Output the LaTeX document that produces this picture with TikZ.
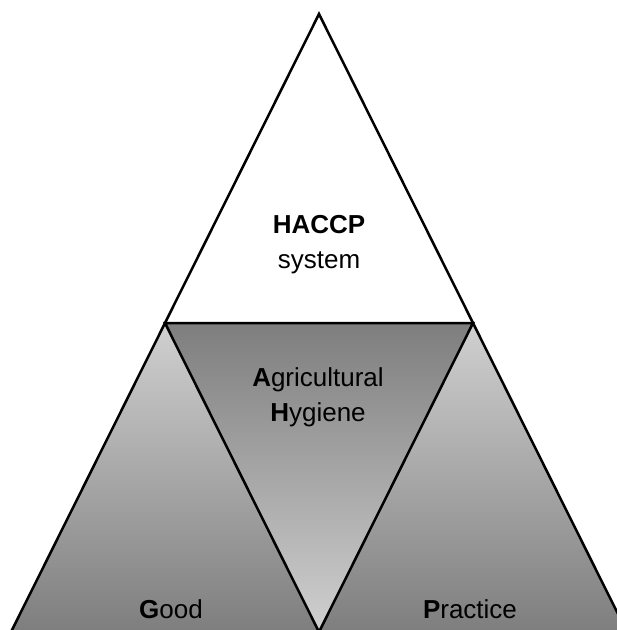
\documentclass[tikz,border=0pt]{standalone}
\usepackage{fontspec}
\setmainfont{Liberation Sans}
\definecolor{lightg}{HTML}{D0D0D0}
\definecolor{darkg}{HTML}{7E7E7E}
\begin{document}
\begin{tikzpicture}[x=1pt,y=-1pt,
  edge/.style={draw=black,line width=2.5pt,line join=miter},
  lbl/.style={font=\fontsize{26}{35}\selectfont,align=center,inner sep=0pt}]
\useasboundingbox (0,0) rectangle (617,630);
\begin{scope}
\clip (0,0) rectangle (617,630);
\coordinate (A) at (319,14);
\coordinate (L) at (165,323);
\coordinate (R) at (473,323);
\coordinate (BL) at (11,632);
\coordinate (BM) at (319,632);
\coordinate (BR) at (627,632);
\fill[white] (A) -- (L) -- (R) -- cycle;
\shade[top color=lightg,bottom color=darkg] (L) -- (BL) -- (BM) -- cycle;
\shade[top color=lightg,bottom color=darkg] (R) -- (BM) -- (BR) -- cycle;
\shade[top color=darkg,bottom color=lightg] (L) -- (R) -- (BM) -- cycle;
\draw[edge] (BL) -- (A) -- (BR);
\draw[edge] (L) -- (R) -- (BM) -- cycle;
\end{scope}
\node[lbl] (haccp) at (319,245) {\textbf{HACCP}\\system};
\node[lbl] (agh) at (318,397) {\textbf{A}gricultural\\\textbf{H}ygiene};
\node[lbl] (good) at (171,609) {\textbf{G}ood};
\node[lbl] (prac) at (470,609) {\textbf{P}ractice};
\end{tikzpicture}
\end{document}
